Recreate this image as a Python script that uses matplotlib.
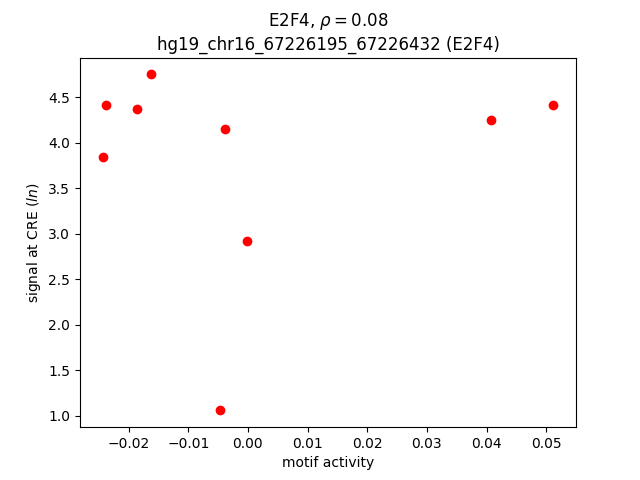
import matplotlib
matplotlib.use("Agg")
import matplotlib.pyplot as plt

# motif activity vs signal at CRE
motif_activity = [-0.02437, -0.02387, -0.01866, -0.01618, -0.00392,
                  -0.00017, -0.00471, 0.04079, 0.05121]
signal = [3.842, 4.415, 4.368, 4.752, 4.150, 2.920, 1.057, 4.250, 4.415]

motif = "E2F4"
rho = 0.08
cre = "hg19_chr16_67226195_67226432"

fig, ax = plt.subplots(figsize=(6.4, 4.8), dpi=100)
ax.plot(motif_activity, signal, 'ro')
ax.set_xlabel("motif activity")
ax.set_ylabel("signal at CRE ($ln$)")
ax.set_title(motif + r", $\rho = %.2f$" % rho + "\n" + cre + " (" + motif + ")")
fig.savefig("out.png")
